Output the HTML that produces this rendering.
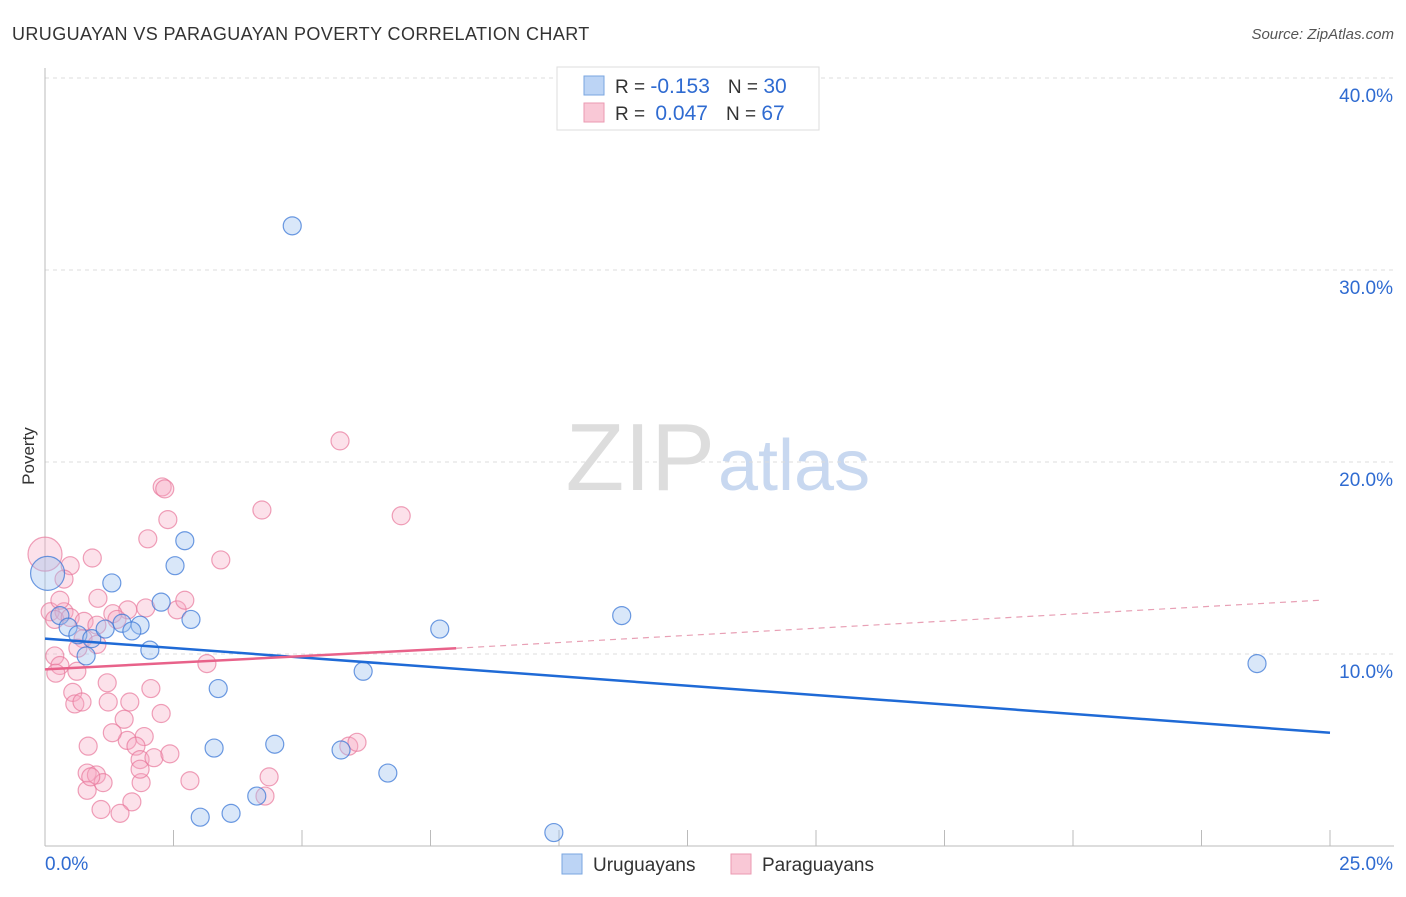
<!DOCTYPE html>
<html><head><meta charset="utf-8"><style>
body{margin:0;background:#fff;font-family:"Liberation Sans",sans-serif;}
svg text{font-family:"Liberation Sans",sans-serif;}
</style></head><body>
<svg id="chart" width="1406" height="892" xmlns="http://www.w3.org/2000/svg">
<text x="12" y="40" font-size="18" fill="#333" letter-spacing="0.4">URUGUAYAN VS PARAGUAYAN POVERTY CORRELATION CHART</text>
<text x="1394" y="39" font-size="15" fill="#555" text-anchor="end" font-style="italic">Source: ZipAtlas.com</text>
<text x="715" y="490" font-size="96" fill="#ddd" text-anchor="end" font-family="Liberation Serif">ZIP</text>
<text x="718" y="490" font-size="72" fill="#c8d8f0">atlas</text>
<g id="grid"></g>
<g id="axes"></g>
<g id="points"></g>
<g id="trends"></g>
<text x="34" y="456" font-size="17" fill="#333" text-anchor="middle" transform="rotate(-90 34 456)">Poverty</text>
<g>
<rect x="557" y="67" width="262" height="63" fill="#fff" stroke="#ddd"/>
<rect x="584" y="76" width="20" height="19" fill="#bcd4f5" stroke="#7aa6e0"/>
<rect x="584" y="103" width="20" height="19" fill="#f9c8d6" stroke="#eb9ab2"/>
<text x="615" y="93" font-size="19" fill="#333">R = <tspan fill="#2f6bd1" font-size="21">-0.153</tspan><tspan dx="18">N =</tspan> <tspan fill="#2f6bd1" font-size="21">30</tspan></text>
<text x="615" y="120" font-size="19" fill="#333">R = <tspan dx="5" fill="#2f6bd1" font-size="21">0.047</tspan><tspan dx="18">N =</tspan> <tspan fill="#2f6bd1" font-size="21">67</tspan></text>
</g>
<g>
<rect x="562" y="854" width="20" height="20" fill="#bcd4f5" stroke="#7aa6e0"/>
<text x="593" y="871" font-size="19" fill="#333">Uruguayans</text>
<rect x="731" y="854" width="20" height="20" fill="#f9c8d6" stroke="#eb9ab2"/>
<text x="762" y="871" font-size="19" fill="#333">Paraguayans</text>
</g>
</svg>
<script>
const yTicks=[10,20,30,40];
const yTickLabels=["10.0%","20.0%","30.0%","40.0%"];
const xTickLabels=["0.0%","25.0%"];
const uruX=[4.81,2.72,2.53,1.30,2.26,2.84,1.50,1.85,1.69,0.29,0.45,0.64,0.91,1.17,0.80,2.04,3.37,3.29,4.47,5.76,6.19,6.67,4.12,3.62,3.02,9.9,11.22,7.68,23.58,0.05];
const uruY=[32.3,15.9,14.6,13.7,12.7,11.8,11.6,11.5,11.2,12.0,11.4,11.0,10.8,11.3,9.9,10.2,8.2,5.1,5.3,5.0,9.1,3.8,2.6,1.7,1.5,0.7,12.0,11.3,9.5,14.2];
const uruR=[9,9,9,9,9,9,9,9,9,9,9,9,9,9,9,9,9,9,9,9,9,9,9,9,9,9,9,9,9,17];
const parX=[5.74,2.28,2.33,4.22,6.93,2.39,2.0,0.92,3.42,0.0,0.49,0.37,1.03,1.61,1.96,2.57,1.32,0.1,0.37,0.19,0.49,0.76,1.01,1.4,0.74,0.64,1.01,0.19,0.29,0.21,0.62,3.15,1.21,2.06,0.54,0.58,0.72,1.23,1.65,1.54,2.26,1.93,1.6,1.77,0.84,1.31,1.85,2.12,2.43,0.82,1.0,1.13,0.82,1.87,2.82,4.36,4.28,5.91,6.07,1.09,1.69,1.46,0.89,1.85,0.29,2.72];
const parY=[21.1,18.7,18.6,17.5,17.2,17.0,16.0,15.0,14.9,15.2,14.6,13.9,12.9,12.3,12.4,12.3,12.1,12.2,12.2,11.8,11.9,11.7,11.5,11.8,10.8,10.3,10.5,9.9,9.4,9.0,9.1,9.5,8.5,8.2,8.0,7.4,7.5,7.5,7.5,6.6,6.9,5.7,5.5,5.2,5.2,5.9,4.5,4.6,4.8,3.8,3.7,3.3,2.9,3.3,3.4,3.6,2.6,5.2,5.4,1.9,2.3,1.7,3.6,4.0,12.8,12.8];
const parR=[9,9,9,9,9,9,9,9,9,17,9,9,9,9,9,9,9,9,9,9,9,9,9,9,9,9,9,9,9,9,9,9,9,9,9,9,9,9,9,9,9,9,9,9,9,9,9,9,9,9,9,9,9,9,9,9,9,9,9,9,9,9,9,9,9,9];
const uruTrend=[0,10.8,25,5.9];
const parTrendSolid=[0,9.2,8,10.3];
const parTrendDash=[8,10.3,24.8,12.8];
const X=v=>45+v/25*1285, Y=v=>846-v*19.2;
const NS="http://www.w3.org/2000/svg";
function mk(t,a,p){const e=document.createElementNS(NS,t);for(const k in a)e.setAttribute(k,a[k]);document.getElementById(p).appendChild(e);return e;}
yTicks.forEach((t,i)=>{
 const g=mk('line',{x1:45,x2:1394,y1:Y(t),y2:Y(t),stroke:'#ddd','stroke-dasharray':'4,4'},'grid');
 
 
 const l=mk('text',{x:1393,y:Y(t)+24,'font-size':19,fill:'#2f6bd1','text-anchor':'end'},'axes');
 l.textContent=yTickLabels[i];
 
 
});
const ax=mk('line',{x1:45,x2:45,y1:68,y2:846,stroke:'#bbb'},'axes');


const bx=mk('line',{x1:45,x2:1394,y1:846,y2:846,stroke:'#bbb'},'axes');


for(let i=1;i<=10;i++){const tk=mk('line',{x1:X(i*2.5),x2:X(i*2.5),y1:830,y2:846,stroke:'#bbb'},'axes');
 
 }
xTickLabels.forEach((s,i)=>{const t=mk('text',{x:i?1393:45,y:870,'font-size':19,fill:'#2f6bd1','text-anchor':i?'end':'start'},'axes');t.textContent=s;
 
 });
parX.forEach((x,i)=>{const c=mk('circle',{cx:X(x),cy:Y(parY[i]),r:parR[i]||9,fill:'rgba(247,170,195,0.35)',stroke:'rgba(232,120,155,0.7)','stroke-width':1.2},'points');
 
 });
uruX.forEach((x,i)=>{const c=mk('circle',{cx:X(x),cy:Y(uruY[i]),r:uruR[i]||9,fill:'rgba(160,195,240,0.4)',stroke:'rgba(60,120,215,0.75)','stroke-width':1.2},'points');
 
 });
const t1=mk('line',{x1:X(uruTrend[0]),y1:Y(uruTrend[1]),x2:X(uruTrend[2]),y2:Y(uruTrend[3]),stroke:'#1f6ad6','stroke-width':2.5},'trends');


const t2=mk('line',{x1:X(parTrendSolid[0]),y1:Y(parTrendSolid[1]),x2:X(parTrendSolid[2]),y2:Y(parTrendSolid[3]),stroke:'#e8628a','stroke-width':2.5},'trends');


const t3=mk('line',{x1:X(parTrendDash[0]),y1:Y(parTrendDash[1]),x2:X(parTrendDash[2]),y2:Y(parTrendDash[3]),stroke:'#e8a0b5','stroke-width':1.2,'stroke-dasharray':'6,5'},'trends');


</script>
</body></html>
